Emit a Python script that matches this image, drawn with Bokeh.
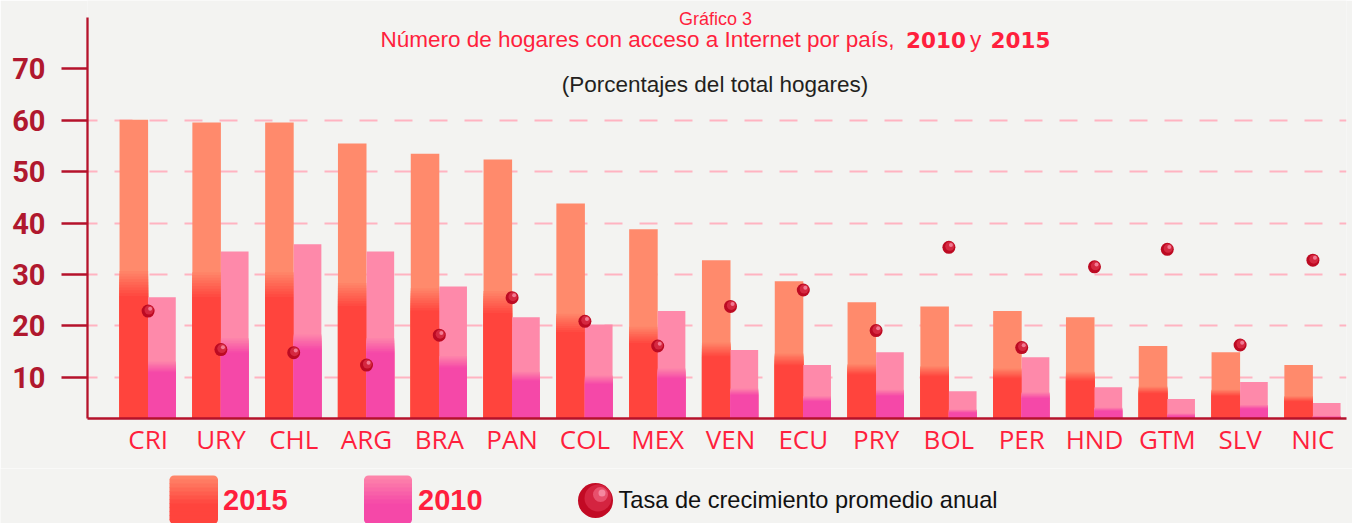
from bokeh.plotting import figure
from bokeh.models import Range1d, FixedTicker, Label, BoxAnnotation
from bokeh.layouts import column
from bokeh.embed import file_html
from bokeh.resources import INLINE

# ---------------- data ----------------
countries = ["CRI", "URY", "CHL", "ARG", "BRA", "PAN", "COL", "MEX", "VEN",
             "ECU", "PRY", "BOL", "PER", "HND", "GTM", "SLV", "NIC"]
v2015 = [60.1, 59.6, 59.6, 55.5, 53.5, 52.4, 43.8, 38.8, 32.8,
         28.7, 24.6, 23.8, 22.9, 21.7, 16.1, 14.9, 12.4]
v2010 = [25.6, 34.5, 35.9, 34.5, 27.7, 21.7, 20.3, 22.9, 15.3,
         12.4, 14.9, 7.3, 13.9, 8.1, 5.8, 9.1, 5.0]
growth = [22.9, 15.4, 14.8, 12.4, 18.2, 25.5, 20.9, 16.1, 23.8,
          27.0, 19.1, 35.3, 15.8, 31.5, 34.9, 16.3, 32.8]
y_ticks = [10, 20, 30, 40, 50, 60, 70]
grid_ticks = [10, 20, 30, 40, 50, 60]
legend_labels = ["2015", "2010", "Tasa de crecimiento promedio anual"]

# ---------------- style ----------------
BG = "#F3F3F1"
AXIS = "#B5122B"
RED_TXT = "#FF1F3D"
C15_LIGHT, C15_DARK = "#FF8A6C", "#FF443D"
C10_LIGHT, C10_DARK = "#FE89AA", "#F548A8"

W = 1352
H1, H2 = 468, 55
ML, MR, MT, MB = 87, 6, 0, 50
AXIS_TOP_PX = 17            # where the y axis line starts (canvas px)
PX_PER_CAT = 72.8
X0 = -(147.6 - ML) / PX_PER_CAT
FW = W - ML - MR
FH = H1 - MT - MB
X1 = X0 + FW / PX_PER_CAT
Y0, Y_AXIS_END = 2, 80
Y1 = Y0 + (Y_AXIS_END - Y0) * FH / (FH - AXIS_TOP_PX)
BASE_K = 0.37   # empirical shift of Bokeh's alphabetic baseline


def hex2rgb(h):
    h = h.lstrip("#")
    return tuple(int(h[i:i + 2], 16) for i in (0, 2, 4))


def mix(c1, c2, t):
    a, b = hex2rgb(c1), hex2rgb(c2)
    return "#%02x%02x%02x" % tuple(round(a[i] + (b[i] - a[i]) * t) for i in range(3))


# canvas pixel -> data coordinate helpers (layout of the title texts)
def dx(px):
    return X0 + (px - ML) * (X1 - X0) / FW


def dy(py):
    return Y0 + (MT + FH - py) * (Y1 - Y0) / FH


p = figure(width=W, height=H1, output_backend="svg", toolbar_location=None,
           x_range=Range1d(X0, X1), y_range=Range1d(Y0, Y1),
           min_border_left=ML, min_border_right=MR,
           min_border_top=MT, min_border_bottom=MB,
           background_fill_color=BG, border_fill_color=BG,
           outline_line_color=None, frame_align=False)

# ---------------- bars with simulated gradient (painted light -> dark, overlapping) ----------------
xs = list(range(len(countries)))
LO, HI, N = 0.43, 0.52, 10


def gradient_bars(xpos, vals, width, light, dark):
    p.vbar(x=xpos, width=width, bottom=0, top=vals, fill_color=light, line_color=None)
    for k in range(N):
        f = HI - (HI - LO) * (k + 1) / N
        col = mix(light, dark, (k + 1) / N)
        p.vbar(x=xpos, width=width, bottom=0, top=[f * v for v in vals],
               fill_color=col, line_color=None)


gradient_bars([x - 0.196 for x in xs], v2015, 0.392, C15_LIGHT, C15_DARK)
gradient_bars([x + 0.19 for x in xs], v2010, 0.38, C10_LIGHT, C10_DARK)

# ---------------- growth-rate spheres ----------------
p.scatter(x=xs, y=growth, size=13, fill_color="#BC0A22", line_color=None)
p.scatter(x=[x + 0.012 for x in xs], y=[g + 0.2 for g in growth], size=9,
          fill_color="#D52840", line_color=None)
p.scatter(x=[x + 0.028 for x in xs], y=[g + 0.45 for g in growth], size=4,
          fill_color="#F27A93", line_color=None)

# ---------------- axes ----------------
p.xgrid.visible = False
p.ygrid.ticker = FixedTicker(ticks=grid_ticks)
p.ygrid.grid_line_color = "#FFB3C1"
p.ygrid.grid_line_width = 2
p.ygrid.grid_line_dash = "18 17"
p.ygrid.grid_line_dash_offset = 8

ya = p.yaxis[0]
ya.ticker = FixedTicker(ticks=y_ticks)
ya.bounds = (Y0, Y_AXIS_END)
ya.axis_line_color = AXIS
ya.axis_line_width = 2.3
ya.major_tick_line_color = AXIS
ya.major_tick_line_width = 2.5
ya.major_tick_out = 26
ya.major_tick_in = 0
ya.minor_tick_line_color = None
ya.major_label_standoff = 16
ya.major_label_text_font = "Roboto"
ya.major_label_text_font_style = "bold"
ya.major_label_text_font_size = "29px"
ya.major_label_text_color = "#B0182E"

xa = p.xaxis[0]
xa.ticker = FixedTicker(ticks=xs)
xa.major_label_overrides = {i: c for i, c in enumerate(countries)}
xa.axis_line_color = AXIS
xa.axis_line_width = 2.5
xa.major_tick_line_color = None
xa.minor_tick_line_color = None
xa.major_label_standoff = -4
xa.major_label_text_font = "Open Sans"
xa.major_label_text_font_size = "26px"
xa.major_label_text_color = RED_TXT


# ---------------- titles ----------------
def lab(fig, text, x, y, size, color, font="Liberation Sans", style="normal", align="left"):
    fig.add_layout(Label(x=x, y=y, text=text, text_font=font,
                         text_font_size="%gpx" % size, text_font_style=style,
                         text_color=color, text_align=align,
                         text_baseline="alphabetic"))


def plab(text, px, py, size, color, **kw):
    lab(p, text, dx(px), dy(py - BASE_K * size), size, color, **kw)


plab("Gráfico 3", 715, 25, 18, RED_TXT, align="center")
plab("Número de hogares con acceso a Internet por país,", 380, 47, 22.5, RED_TXT)
plab("2010", 905.5, 47, 21.5, RED_TXT, font="DejaVu Sans", style="bold")
plab("y", 969.5, 47, 22.5, RED_TXT)
plab("2015", 990, 47, 21.5, RED_TXT, font="DejaVu Sans", style="bold")
plab("(Porcentajes del total hogares)", 714.5, 92.5, 22.5, "#231F20", align="center")

# ---------------- legend strip (second figure, y in page pixels downward) ----------------
L = figure(width=W, height=H2, output_backend="svg", toolbar_location=None,
           x_range=Range1d(0, W), y_range=Range1d(H1 + H2, H1),
           x_axis_location=None, y_axis_location=None,
           min_border_left=0, min_border_right=0, min_border_top=0, min_border_bottom=0,
           background_fill_color=BG, border_fill_color=BG, outline_line_color=None,
           frame_align=False)
L.xgrid.visible = False
L.ygrid.visible = False


def llab(text, px, py, size, color, **kw):
    lab(L, text, px, py - BASE_K * size, size, color, **kw)


def swatch(left, right, top, bottom, light, dark, n=12):
    h = (bottom - top) / n
    for k in range(n):
        t = min(1.0, (k + 0.5) / (n * 0.6))
        col = mix(light, dark, t)
        if k == 0:
            rad = (8, 8, 0, 0)
        elif k == n - 1:
            rad = (0, 0, 8, 8)
        else:
            rad = 0
        L.add_layout(BoxAnnotation(left=left, right=right,
                                   top=top + k * h, bottom=top + (k + 1) * h + 0.6,
                                   fill_color=col, fill_alpha=1, line_color=None,
                                   border_radius=rad))


swatch(169, 217.5, 475, 523, C15_LIGHT, C15_DARK)
llab(legend_labels[0], 222.5, 510.5, 29, RED_TXT, style="bold")
swatch(363.5, 411.5, 475, 523, C10_LIGHT, C10_DARK)
llab(legend_labels[1], 417.5, 510.5, 29, RED_TXT, style="bold")

L.scatter(x=[595], y=[500], size=35, fill_color="#C20A24", line_color=None)
L.scatter(x=[597.5], y=[497.5], size=27, fill_color="#D42440", line_color=None)
L.scatter(x=[600], y=[494], size=15, fill_color="#E8506C", line_color=None)
L.scatter(x=[601.5], y=[492.5], size=7, fill_color="#F5889F", line_color=None)
llab(legend_labels[2], 618, 508.5, 23.6, "#111111")

open("out.html", "w").write(file_html(column(p, L, spacing=0), INLINE))
